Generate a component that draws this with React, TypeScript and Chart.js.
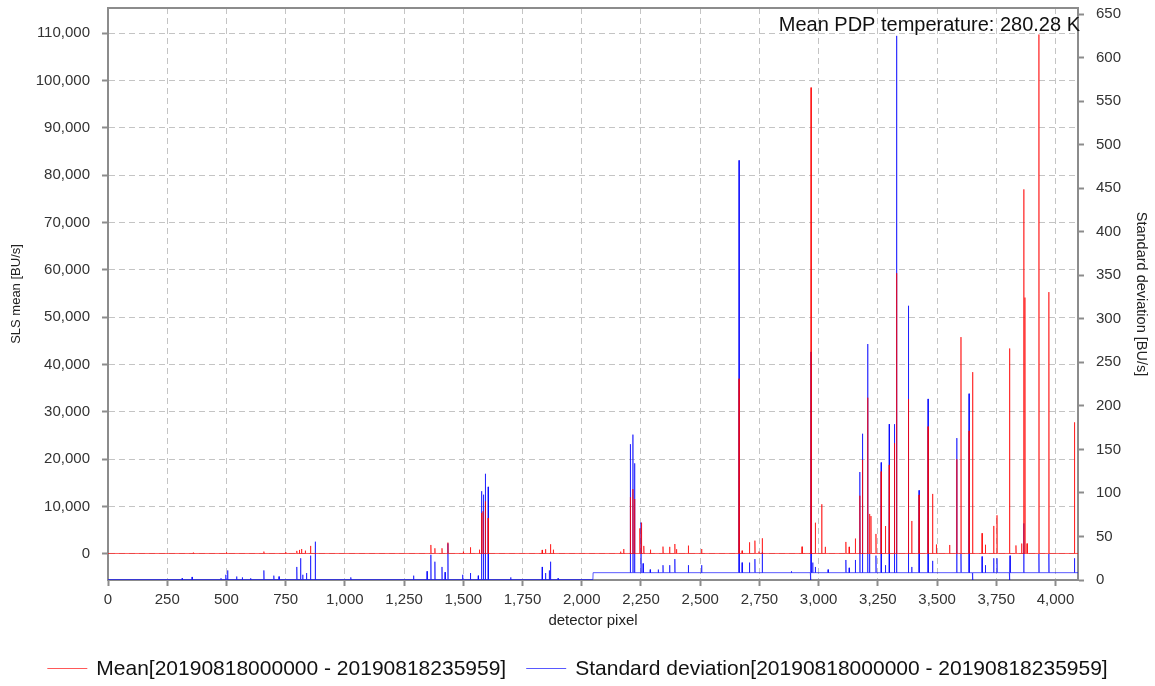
import React, { useEffect, useRef } from "react";
import { Chart, registerables } from "chart.js";

Chart.register(...registerables);

// ---------- tick labels / axis ranges ----------
const xTickValues = [0, 250, 500, 750, 1000, 1250, 1500, 1750, 2000, 2250, 2500, 2750, 3000, 3250, 3500, 3750, 4000];
const meanTickValues = [0, 10000, 20000, 30000, 40000, 50000, 60000, 70000, 80000, 90000, 100000, 110000];
const stdTickValues = [0, 50, 100, 150, 200, 250, 300, 350, 400, 450, 500, 550, 600, 650];

const pixelMin = 0;
const pixelMax = 4095;
const meanAxisMin = -5500;
const meanAxisMax = 115300;
const stdAxisMin = 0;
const stdAxisMax = 657;

// ---------- series: Mean (left axis, BU/s) ----------
const meanLabel = "Mean[20190818000000 - 20190818235959]";
const meanBaseLevel = 100;
const meanPeakPixels = [
  360, 500, 658, 750, 797, 808, 817, 833, 855,
  1363, 1380, 1410, 1435, 1500, 1530, 1568, 1577, 1583, 1593, 1605, 1833, 1847, 1868, 1880,
  2164, 2177, 2205, 2216, 2223, 2245, 2252, 2262, 2290, 2343, 2371, 2393, 2400, 2450, 2506,
  2664, 2677, 2708, 2731, 2748, 2762, 2930,
  2968, 2986, 3013, 3028, 3115, 3129, 3155, 3174, 3185, 3207, 3215, 3221, 3242, 3264, 3282,
  3298, 3320, 3329, 3379, 3393, 3424, 3462, 3481, 3497, 3553, 3583, 3601, 3635, 3650, 3690,
  3704, 3739, 3753, 3806, 3833, 3857, 3866, 3871, 3880, 3930, 3972, 4080,
];
const meanPeakValues = [
  300, 350, 500, 400, 650, 850, 1050, 700, 1700,
  1900, 1200, 1200, 2400, 500, 1400, 900, 8650, 9000, 11100, 7600, 850, 1000, 2050, 900,
  490, 1050, 12000, 13700, 11600, 5400, 6600, 1700, 900, 1550, 1500, 2100, 1000, 1760, 1050,
  37000, 700, 2460, 2810, 500, 3310, 1540,
  98500, 6600, 10500, 1500, 2540, 1500, 3250, 12300, 19860, 33000, 8450, 8000, 4230, 17400, 5900,
  18800, 23400, 59300, 32700, 6970, 12470, 26900, 12680, 2000, 1900, 20000, 45800, 26000, 38400, 4370,
  1950, 5920, 8170, 43400, 1800, 2200, 77000, 54150, 2200, 109700, 55300, 27800,
];

// ---------- series: Standard deviation (right axis, BU/s) ----------
const stdLabel = "Standard deviation[20190818000000 - 20190818235959]";
const stdBaseStarts = [0, 2048];
const stdBaseLevels = [0.5, 8.4];
const stdPeakPixels = [
  313, 355, 477, 497, 505, 543, 567, 602, 658, 700, 722, 797, 813, 822, 838, 855, 875, 1025,
  1290, 1347, 1363, 1380, 1410, 1423, 1435, 1497, 1530, 1563, 1577, 1585, 1593, 1605, 1700,
  1833, 1847, 1863, 1868, 1900,
  2205, 2216, 2223, 2250, 2259, 2289, 2323, 2343, 2371, 2393, 2450, 2506,
  2664, 2677, 2708, 2731, 2762, 2885,
  2966, 2968, 2975, 2986, 3040, 3115, 3129, 3155, 3174, 3185, 3207, 3215, 3242, 3264, 3282,
  3298, 3320, 3329, 3379, 3393, 3424, 3462, 3481, 3583, 3601, 3635, 3650, 3690, 3704, 3739,
  3753, 3806, 3808, 3866, 3930, 3972, 4080,
];
const stdPeakValues = [
  2, 3.5, 2, 6, 11, 4, 3, 2, 11, 5, 4, 15, 25, 6, 8, 28, 44, 3,
  5, 10, 29, 21, 15, 9, 42, 6, 8, 5, 102, 98, 122, 107, 3,
  15, 8, 11, 21, 2,
  156, 167, 134, 66, 19, 12, 12, 17, 17, 24, 17, 17,
  482, 20, 20, 24, 32, 10,
  0, 262, 20, 15, 12, 23, 14, 23, 124, 168, 271, 30, 28, 135, 17,
  179, 179, 625, 315, 15, 103, 208, 22, 163, 30, 214, 0, 27, 17, 25,
  25, 0, 28, 65, 30, 30, 25,
];

const meanPdpTemperatureText = "Mean PDP temperature: 280.28 K";

// ---------- helpers ----------
type Pt = { x: number; y: number };

function buildSeries(
  pixels: number[],
  values: number[],
  baseAt: (p: number) => number,
  extraBasePixels: number[]
): Pt[] {
  const pts = new Map<number, number>();
  const peaks = new Map<number, number>();
  pixels.forEach((p, i) => peaks.set(p, values[i]));
  peaks.forEach((v, p) => pts.set(p, v));
  peaks.forEach((_v, p) => {
    [p - 1, p + 1].forEach((q) => {
      if (!peaks.has(q) && q >= pixelMin && q <= pixelMax) pts.set(q, baseAt(q));
    });
  });
  extraBasePixels.forEach((q) => {
    if (!peaks.has(q)) pts.set(q, baseAt(q));
  });
  return Array.from(pts.entries())
    .sort((a, b) => a[0] - b[0])
    .map(([x, y]) => ({ x, y }));
}

function stdBaseAt(p: number): number {
  let level = stdBaseLevels[0];
  stdBaseStarts.forEach((s, i) => {
    if (p >= s) level = stdBaseLevels[i];
  });
  return level;
}

const FONT = "'Liberation Sans', Arial, Helvetica, sans-serif";
const AXIS_GRAY = "#8c8c8c";
const GRID_GRAY = "#c4c4c4";
const RED = "rgba(255, 0, 0, 0.65)";
const BLUE = "rgba(0, 0, 255, 0.65)";

const fmt = (v: number) => Number(v).toLocaleString("en-US");

const zeroPadding = (s: any) => {
  s.paddingTop = 0;
  s.paddingBottom = 0;
  s.paddingLeft = 0;
  s.paddingRight = 0;
};

export default function App() {
  const canvasRef = useRef<HTMLCanvasElement | null>(null);

  useEffect(() => {
    document.body.style.margin = "0";
    const canvas = canvasRef.current;
    if (!canvas) return;

    const meanPoints = buildSeries(meanPeakPixels, meanPeakValues, () => meanBaseLevel, [pixelMin, pixelMax]);
    const stdPoints = buildSeries(
      stdPeakPixels,
      stdPeakValues,
      stdBaseAt,
      [pixelMin, pixelMax, ...stdBaseStarts.slice(1).map((s) => s - 1), ...stdBaseStarts.slice(1)]
    );

    const overlayPlugin = {
      id: "overlay",
      afterDraw(chart: any) {
        const { ctx, chartArea } = chart;
        ctx.save();
        // top border of the plot box
        ctx.strokeStyle = AXIS_GRAY;
        ctx.lineWidth = 2;
        ctx.beginPath();
        ctx.moveTo(chartArea.left - 1, chartArea.top);
        ctx.lineTo(chartArea.right + 1, chartArea.top);
        ctx.stroke();

        // temperature annotation
        ctx.fillStyle = "#111";
        ctx.font = `20px ${FONT}`;
        ctx.textAlign = "right";
        ctx.textBaseline = "alphabetic";
        ctx.fillText(meanPdpTemperatureText, chartArea.right + 2, 31);

        // legend
        ctx.font = `21px ${FONT}`;
        ctx.textBaseline = "middle";
        ctx.textAlign = "left";
        const items = [
          { text: meanLabel, color: RED },
          { text: stdLabel, color: BLUE },
        ];
        const swatch = 40;
        const gap = 9;
        const spacing = 20;
        const widths = items.map((it) => ctx.measureText(it.text).width);
        const total = widths.reduce((a, w) => a + swatch + gap + w, 0) + spacing * (items.length - 1);
        let x = (chart.width - total) / 2;
        const y = 668;
        items.forEach((it, i) => {
          ctx.strokeStyle = it.color;
          ctx.lineWidth = 1;
          ctx.beginPath();
          ctx.moveTo(x, y + 0.5);
          ctx.lineTo(x + swatch, y + 0.5);
          ctx.stroke();
          ctx.fillStyle = "#111";
          ctx.fillText(it.text, x + swatch + gap, y + 1);
          x += swatch + gap + widths[i] + spacing;
        });
        ctx.restore();
      },
    };

    const tickFont = { family: FONT, size: 15 };

    const chart = new Chart(canvas, {
      type: "line",
      data: {
        datasets: [
          {
            label: meanLabel,
            data: meanPoints,
            yAxisID: "yMean",
            borderColor: RED,
            backgroundColor: RED,
            borderWidth: 1,
            pointRadius: 0,
            tension: 0,
            fill: false,
          },
          {
            label: stdLabel,
            data: stdPoints,
            yAxisID: "yStd",
            borderColor: BLUE,
            backgroundColor: BLUE,
            borderWidth: 1,
            pointRadius: 0,
            tension: 0,
            fill: false,
          },
        ],
      },
      options: {
        animation: false,
        responsive: false,
        devicePixelRatio: 1,
        parsing: false,
        normalized: true,
        layout: { padding: { top: 8, left: 0, right: 0, bottom: 0 } },
        plugins: {
          legend: { display: false },
          tooltip: { enabled: false },
        },
        scales: {
          x: {
            type: "linear",
            position: "bottom",
            min: pixelMin,
            max: pixelMax,
            afterBuildTicks: (s: any) => {
              s.ticks = xTickValues.map((v) => ({ value: v }));
            },
            afterFit: (s: any) => {
              s.height = 106;
              zeroPadding(s);
            },
            ticks: {
              font: tickFont,
              color: "#333",
              padding: 5,
              maxRotation: 0,
              autoSkip: false,
              callback: (v: any) => fmt(v),
            },
            grid: {
              color: GRID_GRAY,
              lineWidth: 1,
              tickLength: 6,
              tickColor: AXIS_GRAY,
              tickWidth: 2,
            },
            border: { display: true, color: AXIS_GRAY, width: 2, dash: [6, 4] },
            title: {
              display: true,
              text: "detector pixel",
              font: { family: FONT, size: 15 },
              color: "#222",
              padding: { top: 0, bottom: 56 },
            },
          },
          yMean: {
            type: "linear",
            position: "left",
            min: meanAxisMin,
            max: meanAxisMax,
            afterBuildTicks: (s: any) => {
              s.ticks = meanTickValues.map((v) => ({ value: v }));
            },
            afterFit: (s: any) => {
              s.width = 108;
              zeroPadding(s);
            },
            ticks: {
              font: tickFont,
              color: "#333",
              padding: 12,
              autoSkip: false,
              callback: (v: any) => fmt(v),
            },
            grid: {
              color: GRID_GRAY,
              lineWidth: 1,
              tickLength: 6,
              tickColor: AXIS_GRAY,
              tickWidth: 2,
            },
            border: { display: true, color: AXIS_GRAY, width: 2, dash: [6, 4] },
            title: {
              display: true,
              text: "SLS mean [BU/s]",
              font: { family: FONT, size: 13 },
              color: "#222",
              padding: { top: 9, bottom: 0 },
            },
          },
          yStd: {
            type: "linear",
            position: "right",
            min: stdAxisMin,
            max: stdAxisMax,
            afterBuildTicks: (s: any) => {
              s.ticks = stdTickValues.map((v) => ({ value: v }));
            },
            afterFit: (s: any) => {
              s.width = 77;
              zeroPadding(s);
            },
            ticks: {
              font: tickFont,
              color: "#333",
              padding: 12,
              autoSkip: false,
              callback: (v: any) => fmt(v),
            },
            grid: {
              drawOnChartArea: false,
              color: GRID_GRAY,
              tickLength: 6,
              tickColor: AXIS_GRAY,
              tickWidth: 2,
            },
            border: { display: true, color: AXIS_GRAY, width: 2 },
            title: {
              display: true,
              text: "Standard deviation [BU/s]",
              font: { family: FONT, size: 14.5 },
              color: "#222",
              padding: { top: 5, bottom: 0 },
            },
          },
        },
      } as any,
      plugins: [overlayPlugin],
    });

    return () => {
      chart.destroy();
    };
  }, []);

  return (
    <canvas
      ref={canvasRef}
      width={1155}
      height={686}
      style={{ display: "block", width: 1155, height: 686 }}
    />
  );
}
